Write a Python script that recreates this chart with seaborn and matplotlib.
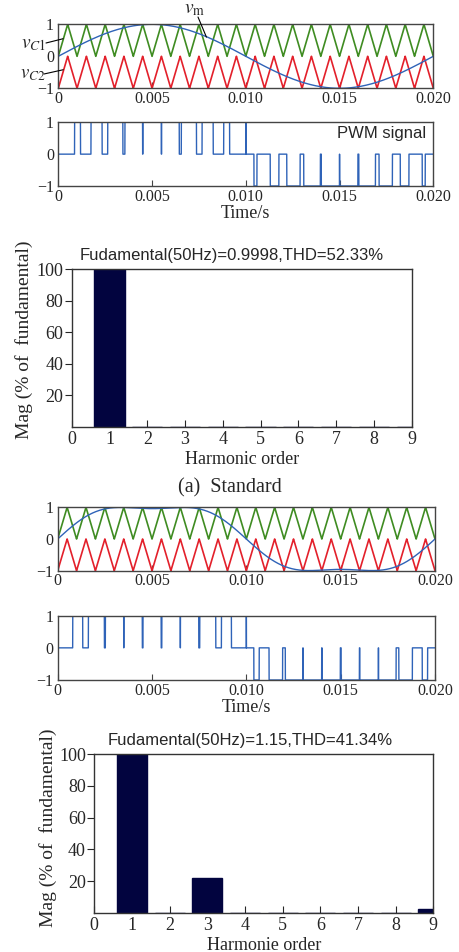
import numpy as np
import seaborn as sns
import matplotlib.pyplot as plt

sns.set_style("ticks")
plt.rcParams['font.family'] = ['Liberation Serif', 'DejaVu Serif']
plt.rcParams['mathtext.fontset'] = 'stix'

# simulation settings
f_mod = 50.0          # modulating wave, Hz
f_carrier = 1000.0    # carrier, Hz (20 periods in 0.02 s)
t_end = 0.020
amp_a = 1.0           # (a) standard sine
amp_b = 1.15          # (b) sine + third harmonic
third_b = 1.0 / 6.0

time_ticks = [0, 0.005, 0.010, 0.015, 0.020]
time_labels = ['0', '0.005', '0.010', '0.015', '0.020']

harmonic_order = [1, 2, 3, 4, 5, 6, 7, 8, 9]
mag_a = [100, 0, 0, 0, 0, 0, 0, 0, 0]
mag_b = [100, 0, 21.7, 0, 0, 0, 0, 0, 2.3]
title_a = "Fudamental(50Hz)=0.9998,THD=52.33%"
title_b = "Fudamental(50Hz)=1.15,THD=41.34%"

green = '#3f8c22'
red = '#e3202b'
blue = '#2f63b8'
navy = '#02043f'
frame = '#444444'

W, H = 459, 952
fig = plt.figure(figsize=(W / 100, H / 100), dpi=100)


def px_axes(l, t, r, b):
    return fig.add_axes([l / W, 1 - b / H, (r - l) / W, (b - t) / H])


t = np.linspace(0, t_end, 20001)
tri = 1 - np.abs((t * f_carrier % 1) * 2 - 1)
vc1 = tri
vc2 = tri - 1
w = 2 * np.pi * f_mod * t
vm_a = amp_a * np.sin(w)
vm_b = amp_b * (np.sin(w) + third_b * np.sin(3 * w))


def pwm(vm):
    return np.where(vm >= 0, (vm > vc1).astype(float), -(vm < vc2).astype(float))


def style_time(ax, xlabel=False):
    ax.set_xlim(0, t_end)
    ax.set_ylim(-1, 1)
    ax.set_xticks(time_ticks)
    ax.set_xticklabels(time_labels)
    ax.set_yticks([-1, 0, 1])
    ax.set_yticklabels(['\u22121', '0', '1'])
    ax.tick_params(axis='x', direction='in', length=4, pad=2, labelsize=11.5, color=frame)
    ax.tick_params(axis='y', length=0, pad=3, labelsize=11.5)
    for s in ax.spines.values():
        s.set_visible(True)
        s.set_color(frame)
        s.set_linewidth(1.0)
    ax.set_ylabel('')
    if xlabel:
        ax.set_xlabel('Time/s', fontsize=13, labelpad=0)


def carrier_panel(box, vm):
    ax = px_axes(*box)
    sns.lineplot(x=t, y=vc1, ax=ax, color=green, lw=1.2, estimator=None, sort=False)
    sns.lineplot(x=t, y=vc2, ax=ax, color=red, lw=1.2, estimator=None, sort=False)
    sns.lineplot(x=t, y=vm, ax=ax, color=blue, lw=1.0, estimator=None, sort=False)
    style_time(ax)
    return ax


def pwm_panel(box, vm):
    ax = px_axes(*box)
    sns.lineplot(x=t, y=pwm(vm), ax=ax, color=blue, lw=1.0, estimator=None, sort=False)
    style_time(ax, xlabel=True)
    return ax


def harmonic_panel(box, mag, title, xlabel, title_x, ylab_xy):
    ax = px_axes(*box)
    sns.barplot(x=harmonic_order, y=mag, ax=ax, native_scale=True, color=navy,
                width=0.8, saturation=1, edgecolor=navy)
    ax.set_xlim(0, 9)
    ax.set_ylim(0, 100)
    ax.set_xticks(range(0, 10))
    ax.set_yticks([20, 40, 60, 80, 100])
    ax.tick_params(axis='x', direction='in', length=5, pad=3, labelsize=13)
    ax.tick_params(axis='y', direction='out', length=5, pad=1, labelsize=13)
    for s in ax.spines.values():
        s.set_visible(True)
        s.set_color('#333333')
        s.set_linewidth(1.0)
    ax.set_title(title, fontsize=12, family=['Liberation Sans', 'DejaVu Sans'], pad=7, x=title_x)
    ax.set_ylabel('Mag (% of  fundamental)', fontsize=14)
    ax.yaxis.set_label_coords(*ylab_xy)
    ax.set_xlabel(xlabel, fontsize=13, labelpad=2)
    return ax


# (a) standard
ax1 = carrier_panel((58.3, 24.3, 433.3, 88.3), vm_a)
fig.text(195 / W, 1 - 10 / H, r'$v_{\mathrm{m}}$', fontsize=14, ha='center', va='center')
fig.text(34 / W, 1 - 45 / H, r'$v_{C1}$', fontsize=14, ha='center', va='center')
fig.text(33 / W, 1 - 75 / H, r'$v_{C2}$', fontsize=13.5, ha='center', va='center')
for start, end in [((198, 17), (0.0079, 0.6)), ((46, 43), (0.00026, 0.55)),
                   ((44, 74), (0.00026, -0.42))]:
    ax1.annotate('', xy=end, xycoords='data', xytext=(start[0], H - start[1]),
                 textcoords='figure pixels', annotation_clip=False,
                 arrowprops=dict(arrowstyle='-', lw=0.8, color='black', shrinkA=0, shrinkB=0))

ax2 = pwm_panel((58.3, 122.3, 433.3, 186), vm_a)
ax2.text(0.98, 0.82, 'PWM signal', transform=ax2.transAxes, ha='right', va='center',
         fontsize=12, family=['Liberation Sans', 'DejaVu Sans'])

harmonic_panel((71.7, 269.3, 411.7, 426.7), mag_a, title_a, 'Harmonic order',
               0.471, (-0.115, 0.55))

fig.text(0.5, 1 - 488 / H, '(a)  Standard', fontsize=14.5, ha='center', va='center')

# (b) third-harmonic injection
carrier_panel((57.7, 507.3, 435, 570.7), vm_b)
pwm_panel((57.7, 615.7, 435, 680), vm_b)
harmonic_panel((94.3, 754.3, 433.3, 912.7), mag_b, title_b, 'Harmonie order',
               0.459, (-0.111, 0.535))

fig.savefig('out.png', dpi=100)
